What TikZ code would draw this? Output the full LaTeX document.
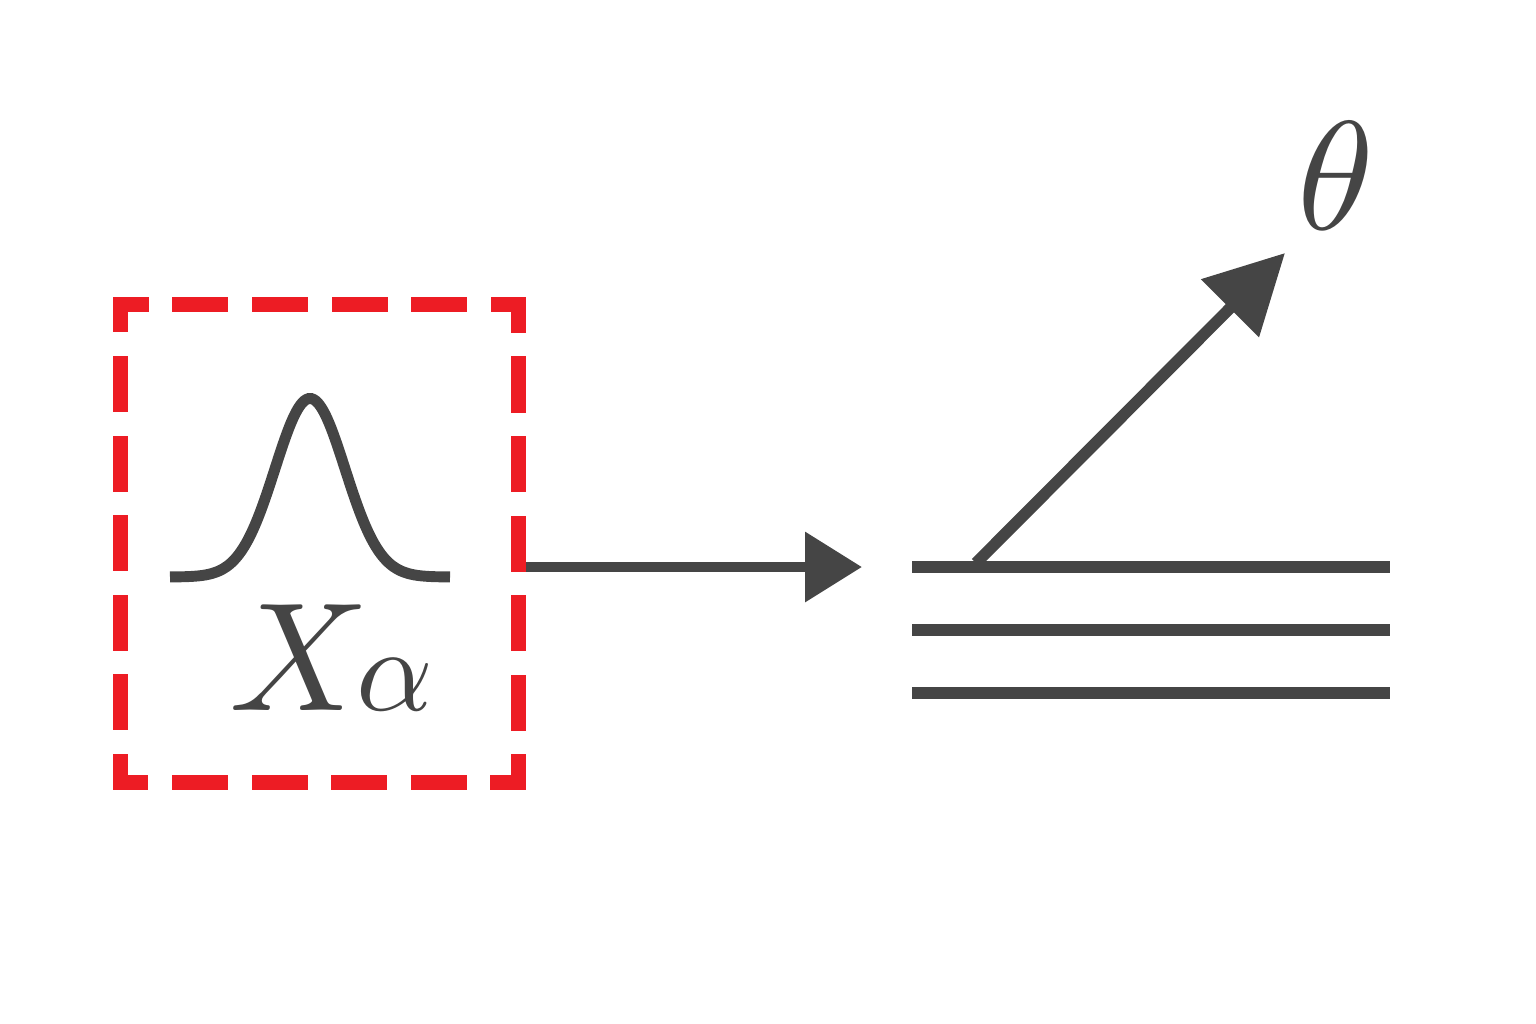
\documentclass[tikz,border=0pt]{standalone}
\usepackage{tikz}
\usetikzlibrary{arrows.meta, positioning}
\definecolor{boxred}{RGB}{237, 28, 36}
\definecolor{inkgray}{RGB}{69, 69, 69}

\begin{document}
\begin{tikzpicture}[
  x=0.01cm, y=-0.01cm,
  ink/.style={draw=inkgray, line width=3.3pt},
  dashbox/.style={rectangle, draw=boxred, line width=4.3pt, line cap=rect, minimum width=3.98cm, minimum height=4.77cm, inner sep=0pt, dash pattern=on 11.63pt off 11pt, dash phase=5.8pt},
  symbol/.style={text=inkgray, inner sep=0pt}
]
  \useasboundingbox (0,0) rectangle (1536,1024);

  % Source box with the distribution
  \node[dashbox] (box) at (319.5,543.5) {};
  \draw[ink, line width=3.1pt] plot[smooth, samples=80, domain=170:450] (\x, {577-178.5*exp(-0.5*pow((\x-310)/35,2))});
  \node[symbol, scale=4.4, anchor=base] (xlab) at (300,710) {$X$};
  \node[symbol, scale=3.4, base right=-5.5pt of xlab] (alab) {$\alpha$};

  % Layers
  \foreach \y [count=\i] in {567,630,693} {
    \coordinate (w\i) at (912,\y);
    \coordinate (e\i) at (1390,\y);
    \draw[ink] (w\i) -- (e\i);
  }

  % Arrows
  \coordinate (hit) at (862,567);
  \coordinate (foot) at (976,563);
  \coordinate (tip) at (1285,253);
  \draw[ink, line width=3pt, -{Triangle[length=16.2pt, width=19.3pt]}] (box.east |- hit) -- (hit);
  \draw[ink, -{Triangle[length=22.2pt, width=22.5pt]}] (foot) -- (tip);
  \node[symbol, scale=4.4, above right=5.7pt and 2.8pt of tip] (theta) {$\theta$};
\end{tikzpicture}
\end{document}
